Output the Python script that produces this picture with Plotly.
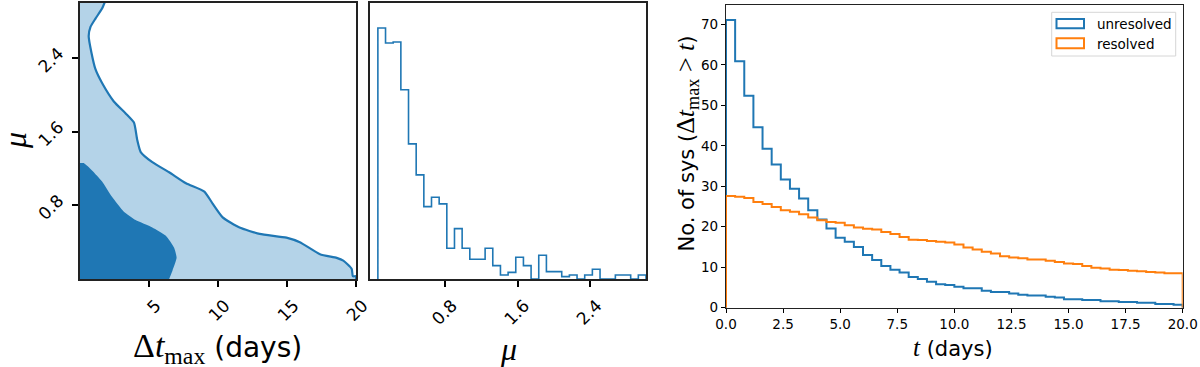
import numpy as np
import plotly.graph_objects as go

W, H = 1200, 367

# left panel: outer contour line and inner (dark) region
outer_t = [1.80, 1.60, 1.12, 0.76, 0.63, 0.83, 1.12, 1.60, 2.45, 3.31, 3.91, 4.15, 4.40,
           5.24, 6.46, 7.68, 9.01, 9.61, 10.34, 11.56, 13.02, 14.96, 15.93, 17.39, 18.60,
           19.08, 19.69, 19.77, 20.0, 20.0]
outer_mu = [3.01, 2.94, 2.83, 2.74, 2.64, 2.46, 2.28, 2.13, 1.93, 1.80, 1.70, 1.51, 1.38,
            1.27, 1.16, 1.04, 0.95, 0.82, 0.67, 0.56, 0.49, 0.45, 0.40, 0.27, 0.23,
            0.20, 0.11, 0.03, 0.03, 0.0]
inner_t = [0.0, 0.27, 0.87, 1.60, 2.33, 3.18, 4.03, 5.24, 6.22, 6.82, 7.00, 6.70, 6.46]
inner_mu = [1.26, 1.26, 1.18, 1.06, 0.89, 0.73, 0.64, 0.56, 0.47, 0.34, 0.23, 0.09, 0.0]

# middle panel: mu histogram (arbitrary units)
mu_lo, mu_hi, mu_nbins = 0.057, 3.02, 35
mu_hist = [7.52, 7.07, 7.10, 5.67, 4.05, 3.12, 2.17, 2.45, 2.25, 0.92, 1.51, 0.92, 0.59,
           0.59, 0.92, 0.40, 0.12, 0.20, 0.65, 0.40, 0.0, 0.71, 0.22, 0.22, 0.07, 0.12,
           0.0, 0.12, 0.29, 0.0, 0.0, 0.12, 0.12, 0.0, 0.12]

# right panel: reverse cumulative counts, 0.4-day bins
t_lo, t_hi, t_nbins = 0.0, 20.0, 50
unresolved = [71.1, 60.9, 52.4, 44.6, 39.3, 35.4, 31.7, 29.4, 27.0, 24.1,
              21.8, 19.6, 17.3, 16.3, 15.0, 13.0, 11.8, 10.3, 9.4, 8.7,
              7.6, 7.1, 6.4, 5.8, 5.6, 5.2, 4.8, 4.8, 4.2, 3.9,
              3.9, 3.5, 3.2, 3.0, 3.0, 2.7, 2.5, 2.1, 2.1, 1.9,
              1.9, 1.6, 1.6, 1.4, 1.4, 1.2, 1.2, 0.9, 0.9, 0.7]
resolved = [27.6, 27.4, 27.1, 26.1, 25.6, 24.9, 24.1, 23.7, 23.1, 22.3,
            21.6, 21.2, 21.0, 20.4, 19.8, 19.5, 19.3, 18.7, 18.2, 17.5,
            16.8, 16.7, 16.5, 16.3, 16.1, 15.6, 14.9, 14.4, 13.8, 13.4,
            12.7, 12.4, 12.2, 11.9, 11.9, 11.6, 11.3, 10.9, 10.8, 10.3,
            9.9, 9.7, 9.4, 9.3, 9.1, 9.0, 8.8, 8.7, 8.5, 8.5]
legend_names = ['unresolved', 'resolved']

BLUE = '#1f77b4'
ORANGE = '#ff7f0e'
LIGHT = '#b4d3e8'
SANS = 'DejaVu Sans'
SERIF = 'Liberation Serif'


def step_xy(edges, vals):
    # matplotlib histtype='step' outline
    x = np.r_[edges[0], edges[:-1], edges[-1], edges[-1]]
    y = np.r_[0, vals, vals[-1], 0]
    return x, y


def px(x):
    return x / W


def py(y):
    return 1 - y / H


fig = go.Figure()

fig.add_trace(go.Scatter(x=outer_t, y=outer_mu, mode='lines', fill='tozerox',
                         fillcolor=LIGHT, line=dict(color=BLUE, width=2.2, shape='spline', smoothing=0.5),
                         xaxis='x', yaxis='y', hoverinfo='skip'))
fig.add_trace(go.Scatter(x=inner_t, y=inner_mu, mode='lines', fill='tozerox',
                         fillcolor=BLUE, line=dict(color=BLUE, width=0, shape='spline', smoothing=0.5),
                         xaxis='x', yaxis='y', hoverinfo='skip'))

mx, my = step_xy(np.linspace(mu_lo, mu_hi, mu_nbins + 1), mu_hist)
fig.add_trace(go.Scatter(x=mx, y=my, mode='lines', line=dict(color=BLUE, width=1.6, shape='hv'),
                         xaxis='x2', yaxis='y2', hoverinfo='skip'))

t_edges = np.linspace(t_lo, t_hi, t_nbins + 1)
for vals, col, name in [(unresolved, BLUE, legend_names[0]), (resolved, ORANGE, legend_names[1])]:
    sx, sy = step_xy(t_edges, vals)
    fig.add_trace(go.Scatter(x=sx, y=sy, mode='lines', name=name,
                             line=dict(color=col, width=2, shape='hv'),
                             xaxis='x3', yaxis='y3'))

big_tick = dict(family=SANS, size=17, color='black')
small_tick = dict(family=SANS, size=13.5, color='black')
frame = dict(showline=True, mirror=True, linecolor='#222', showgrid=False, zeroline=False,
             ticks='outside', color='black', automargin=False)
big_x = dict(tickangle=-45, ticklen=6, tickwidth=1.5, linewidth=2, tickfont=big_tick,
             ticklabelshift=7, ticklabelstandoff=2)

fig.update_layout(
    width=W, height=H, margin=dict(l=0, r=0, t=0, b=0),
    paper_bgcolor='white', plot_bgcolor='white', showlegend=False,
    xaxis=dict(domain=[px(80), px(356)], range=[0, 20], tickvals=[5, 10, 15, 20],
               anchor='y', **big_x, **frame),
    yaxis=dict(domain=[py(279), py(3)], range=[0, 3.0], tickvals=[0.8, 1.6, 2.4],
               tickangle=-45, ticklen=6, tickwidth=1.5, linewidth=2, tickfont=big_tick,
               ticklabelshift=-7, ticklabelstandoff=10, anchor='x', **frame),
    xaxis2=dict(domain=[px(370), px(646)], range=[-0.03, 3.02], tickvals=[0.8, 1.6, 2.4],
                anchor='y2', **big_x, **frame),
    yaxis2=dict(domain=[py(279), py(3)], range=[0, 8.27], showticklabels=False,
                showline=True, mirror=True, linecolor='#222', linewidth=2, showgrid=False,
                zeroline=False, ticks='', anchor='x2', automargin=False),
    xaxis3=dict(domain=[px(726), px(1182.7)], range=[0, 20], dtick=2.5, tickformat='.1f',
                ticklen=4, tickwidth=1.2, linewidth=1.2, tickfont=small_tick, anchor='y3', **frame),
    yaxis3=dict(domain=[py(307.7), py(5)], range=[0, 74.8], dtick=10,
                ticklen=4, tickwidth=1.2, linewidth=1.2, tickfont=small_tick, anchor='x3', **frame),
)


def ser(s, size):
    return f'<span style="font-family:{SERIF};font-size:{size}px">{s}</span>'


annos = [
    dict(x=px(15), y=py(141), text=ser('<i>μ</i>', 32), textangle=-90, font=dict(size=30)),
    dict(x=px(217), y=py(348), text=ser('Δ<i>t</i><sub>max</sub>', 34) + ' (days)', font=dict(size=28)),
    dict(x=px(508), y=py(349), text=ser('<i>μ</i>', 32), font=dict(size=30)),
    dict(x=px(953), y=py(347), text=ser('<i>t</i>', 25) + ' (days)', font=dict(size=21)),
    dict(x=px(687), y=py(143.5),
         text='No. of sys (' + ser('Δ<i>t</i><sub>max</sub> &gt; <i>t</i>', 26) + ')',
         textangle=-90, font=dict(size=21)),
    dict(x=px(1095), y=py(24), text=legend_names[0], xanchor='left', font=dict(size=13.5)),
    dict(x=px(1095), y=py(44), text=legend_names[1], xanchor='left', font=dict(size=13.5)),
]
for a in annos:
    a.setdefault('xanchor', 'center')
    a['font'] = dict(family=SANS, color='black', **a['font'])
    fig.add_annotation(xref='paper', yref='paper', yanchor='middle', showarrow=False, **a)

# legend box drawn by hand (matplotlib-style patches)
fig.add_shape(type='rect', xref='paper', yref='paper', x0=px(1051.7), x1=px(1175.7),
              y0=py(56), y1=py(12.3), line=dict(color='#d6d6d6', width=1), fillcolor='rgba(255,255,255,0.8)')
for y0, y1, col in [(19, 28.3, BLUE), (38.3, 48.3, ORANGE)]:
    fig.add_shape(type='rect', xref='paper', yref='paper', x0=px(1056.5), x1=px(1084),
                  y0=py(y1), y1=py(y0), line=dict(color=col, width=2), fillcolor='rgba(0,0,0,0)')

# the page body has a default 8px margin; drop it so the figure sits at the window origin
fig.write_html("out.html", config={'displayModeBar': False},
               post_script="document.body.style.margin='0';")
